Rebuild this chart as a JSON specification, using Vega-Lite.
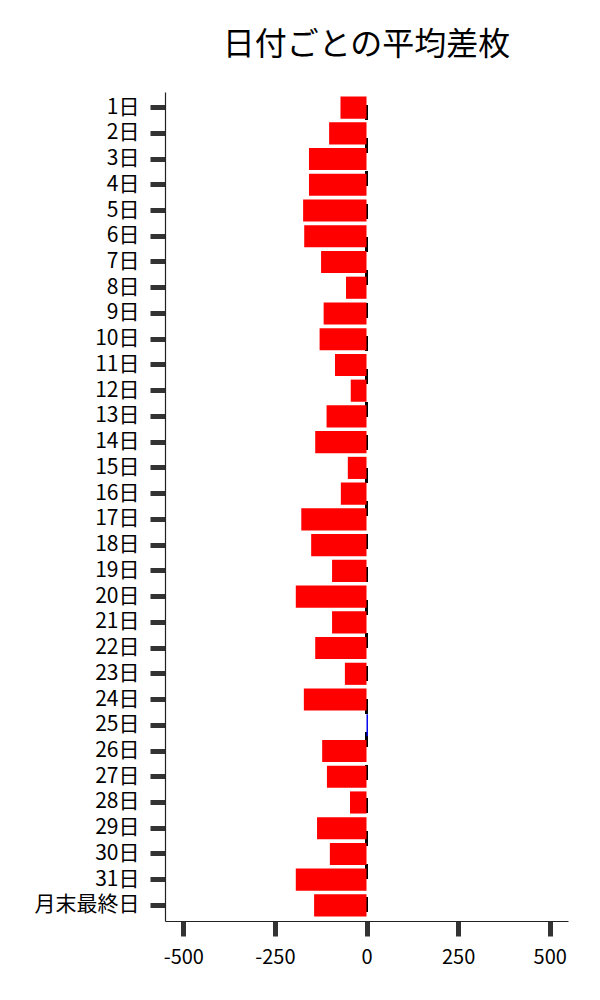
{
  "$schema": "https://vega.github.io/schema/vega-lite/v6.json",
  "autosize": "none",
  "width": 403,
  "height": 829,
  "padding": {"left": 165, "top": 92, "right": 32, "bottom": 79},
  "title": {
    "text": "日付ごとの平均差枚",
    "font": "Noto Sans CJK JP",
    "fontSize": 32,
    "fontWeight": "normal",
    "color": "#000000",
    "anchor": "middle",
    "offset": 29
  },
  "config": {
    "view": {"stroke": null},
    "axis": {
      "labelFont": "Noto Sans CJK JP",
      "labelFontSize": 20,
      "labelColor": "#000000",
      "domainColor": "#222222",
      "domainWidth": 1.2,
      "tickColor": "#333333",
      "tickWidth": 5,
      "tickSize": 15,
      "grid": false
    }
  },
  "data": {
    "values": [
      {"day": "1日", "value": -71},
      {"day": "2日", "value": -102},
      {"day": "3日", "value": -157},
      {"day": "4日", "value": -157},
      {"day": "5日", "value": -173},
      {"day": "6日", "value": -170},
      {"day": "7日", "value": -124},
      {"day": "8日", "value": -56},
      {"day": "9日", "value": -117},
      {"day": "10日", "value": -128},
      {"day": "11日", "value": -86},
      {"day": "12日", "value": -43},
      {"day": "13日", "value": -109},
      {"day": "14日", "value": -140},
      {"day": "15日", "value": -51},
      {"day": "16日", "value": -70},
      {"day": "17日", "value": -178},
      {"day": "18日", "value": -151},
      {"day": "19日", "value": -94},
      {"day": "20日", "value": -193},
      {"day": "21日", "value": -94},
      {"day": "22日", "value": -140},
      {"day": "23日", "value": -59},
      {"day": "24日", "value": -171},
      {"day": "25日", "value": 4},
      {"day": "26日", "value": -121},
      {"day": "27日", "value": -108},
      {"day": "28日", "value": -45},
      {"day": "29日", "value": -135},
      {"day": "30日", "value": -100},
      {"day": "31日", "value": -193},
      {"day": "月末最終日", "value": -143}
    ]
  },
  "encoding": {
    "x": {
      "field": "value",
      "type": "quantitative",
      "title": null,
      "scale": {"domain": [-550, 550], "nice": false, "zero": false},
      "axis": {
        "values": [-500, -250, 0, 250, 500],
        "labelPadding": 11,
        "labelExpr": "datum.value < 0 ? '-' + abs(datum.value) : '' + datum.value"
      }
    }
  },
  "layer": [
    {
      "mark": {"type": "rule", "color": "#000000", "strokeWidth": 3, "strokeDash": [15, 18], "strokeDashOffset": 20},
      "encoding": {"x": {"datum": 0, "type": "quantitative"}}
    },
    {
      "mark": {"type": "bar"},
      "encoding": {
        "y": {
          "field": "day",
          "type": "nominal",
          "sort": null,
          "title": null,
          "scale": {"paddingInner": 0.14, "paddingOuter": 0.175},
          "axis": {"labelPadding": 11, "labelFontSize": 21}
        },
        "color": {
          "condition": {"test": "datum.value > 0", "value": "#0000ee"},
          "value": "#ff0000"
        }
      }
    }
  ]
}
